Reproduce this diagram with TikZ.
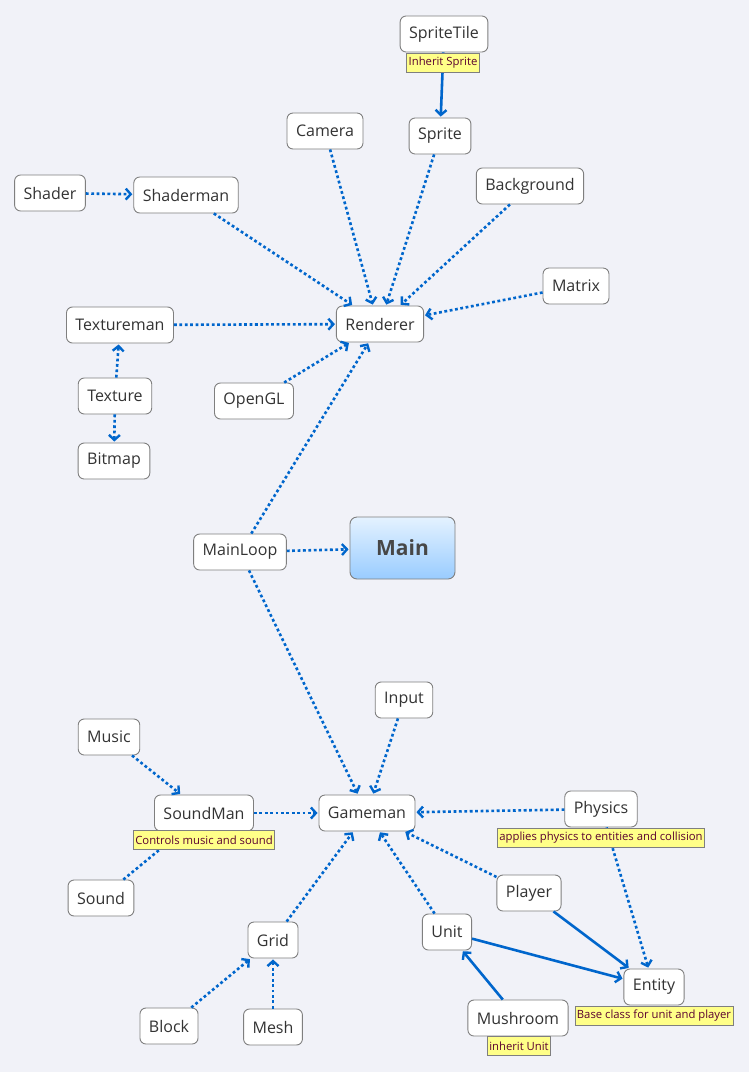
\documentclass[tikz,border=0pt]{standalone}
\usepackage{fontspec}
\setmainfont{Open Sans}
\usetikzlibrary{arrows.meta,shadings}
\definecolor{bg}{HTML}{F1F2F8}
\definecolor{lnk}{HTML}{0066CC}
\definecolor{bord}{HTML}{7F7F7F}
\definecolor{notefill}{HTML}{FFFF88}
\definecolor{notetext}{HTML}{5A0030}
\tikzset{
  topic/.style={draw=bord, fill=white, rounded corners=6pt, line width=0.9pt,
    minimum height=36pt, inner xsep=9pt, font=\fontsize{16}{18}\selectfont, text=black!80},
  note/.style={draw=bord, fill=notefill, line width=0.7pt, inner xsep=2pt, inner ysep=2pt,
    minimum height=19pt, font=\fontsize{11.3}{13}\selectfont, text=notetext},
  dotlink/.style={draw=lnk, line width=2.6pt, dash pattern=on 2.8pt off 2.6pt,
    -{Straight Barb[length=5pt,width=11pt,line width=2.4pt]}, shorten >=1pt},
  solidlink/.style={draw=lnk, line width=2.6pt,
    -{Straight Barb[length=5pt,width=11pt,line width=2.4pt]}, shorten >=1pt},
}
\begin{document}
\begin{tikzpicture}[x=1pt,y=-1pt]
\fill[bg] (0,0) rectangle (749,1072);
\useasboundingbox (0,0) rectangle (749,1072);
% topics
\node[topic] (spritetile) at (444,34) {SpriteTile};
\node[topic] (sprite) at (440,136) {Sprite};
\node[topic] (camera) at (325,131) {Camera};
\node[topic] (shader) at (50,193) {Shader};
\node[topic] (shaderman) at (186,195) {Shaderman};
\node[topic] (background) at (530,186) {Background};
\node[topic] (matrix) at (576,286) {Matrix};
\node[topic] (renderer) at (380,324) {Renderer};
\node[topic] (textureman) at (120,325) {Textureman};
\node[topic] (texture) at (115,396) {Texture};
\node[topic] (opengl) at (254,401) {OpenGL};
\node[topic] (bitmap) at (114,461) {Bitmap};
\node[topic] (mainloop) at (240,552) {MainLoop};
\node[draw=bord, rounded corners=7pt, line width=0.9pt, top color={rgb,255:red,228;green,242;blue,255}, bottom color={rgb,255:red,153;green,204;blue,255},
  minimum width=105pt, minimum height=62pt, font=\fontsize{21}{24}\selectfont\bfseries, text=black!72] (main) at (402.5,548) {Main};
\node[topic] (input) at (404,700) {Input};
\node[topic] (music) at (109,737) {Music};
\node[topic] (soundman) at (204,813) {SoundMan};
\node[topic] (gameman) at (367,813) {Gameman};
\node[topic] (physics) at (601,809) {Physics};
\node[topic] (sound) at (101,898) {Sound};
\node[topic] (player) at (529,893) {Player};
\node[topic] (unit) at (447,932) {Unit};
\node[topic] (grid) at (273,940) {Grid};
\node[topic] (entity) at (654,987) {Entity};
\node[topic] (mushroom) at (518,1018) {Mushroom};
\node[topic] (block) at (169,1026) {Block};
\node[topic] (mesh) at (273,1027) {Mesh};
% links
\draw[solidlink] (spritetile) -- (sprite);
\draw[dotlink] (shader) -- (shaderman);
\draw[dotlink] (camera) -- ([xshift=-7pt]renderer.north);
\draw[dotlink] (shaderman) -- ([xshift=-27pt]renderer.north);
\draw[dotlink] (sprite) -- ([xshift=6pt]renderer.north);
\draw[dotlink] (background) -- ([xshift=20pt]renderer.north);
\draw[dotlink] (matrix) -- (renderer);
\draw[dotlink] (textureman) -- (renderer);
\draw[dotlink] (opengl) -- (renderer);
\draw[dotlink] (mainloop) -- (renderer);
\draw[dotlink] (texture) -- (textureman);
\draw[dotlink] (texture) -- (bitmap);
\draw[dotlink] (mainloop) -- (main);
\draw[dotlink] (mainloop) -- (gameman);
\draw[dotlink] (input) -- (gameman);
\draw[dotlink] (music) -- (soundman);
\draw[dotlink] (sound) -- (soundman);
\draw[dotlink] (soundman) -- (gameman);
\draw[dotlink] (physics) -- (gameman);
\draw[dotlink] (player) -- (gameman);
\draw[dotlink] (unit) -- (gameman);
\draw[dotlink] (grid) -- (gameman);
\draw[dotlink] (physics) -- (entity);
\draw[solidlink] (player) -- (entity);
\draw[solidlink] (unit) -- (entity);
\draw[solidlink] (mushroom) -- (unit);
\draw[dotlink] (block) -- (grid);
\draw[dotlink] (mesh) -- (grid);
% notes
\node[note] (n1) at (443,63) {Inherit Sprite};
\node[note] (n2) at (204,840) {Controls music and sound};
\node[note] (n3) at (601,838) {applies physics to entities and collision};
\node[note] (n4) at (654,1016) {Base class for unit and player};
\node[note] (n5) at (519,1046) {inherit Unit};
\end{tikzpicture}
\end{document}
